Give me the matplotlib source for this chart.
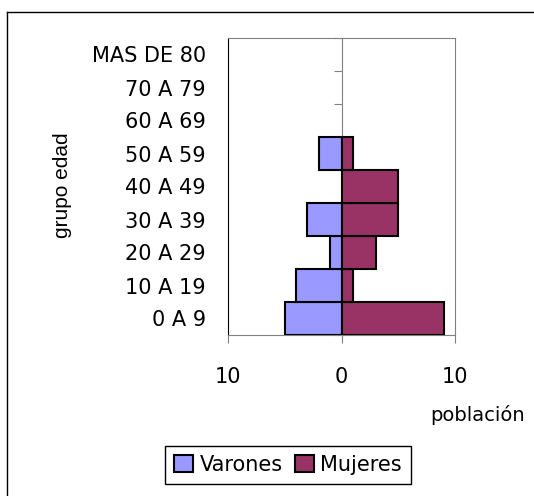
import numpy as np
import matplotlib
matplotlib.use('Agg')
from matplotlib import pyplot as plt
from matplotlib.lines import Line2D

# grupos de edad, de abajo hacia arriba
grupos = ['0 A 9', '10 A 19', '20 A 29', '30 A 39', '40 A 49',
          '50 A 59', '60 A 69', '70 A 79', 'MAS DE 80']
varones = [-5, -4, -1, -3, 0, -2, 0, 0, 0]
mujeres = [9, 1, 3, 5, 5, 1, 0, 0, 0]
xticks = [-10, 0, 10]
xtick_labels = ['10', '0', '10']

plt.rcParams['font.family'] = ['DejaVu Sans']

fig = plt.figure(figsize=(5.34, 4.96), dpi=100)
ax = fig.add_axes([228/534, 1 - 335/496, 227/534, 297/496])

pos = np.arange(len(grupos))
for vals, col, lab in [(varones, '#9999FF', 'Varones'),
                       (mujeres, '#993366', 'Mujeres')]:
    edges = ['black' if v != 0 else 'none' for v in vals]
    ax.barh(pos, vals, height=1.0, color=col, edgecolor=edges,
            linewidth=1.5, label=lab, zorder=3)

ax.set_xlim(-10, 10)
ax.set_ylim(-0.5, len(grupos) - 0.5)

# eje de categorias cruzando en 0
ax.spines['left'].set_position(('data', 0))
ax.spines['left'].set_color('#808080')
for s in ['top', 'right', 'bottom']:
    ax.spines[s].set_color('#808080')
ax.set_yticks(np.arange(len(grupos) + 1) - 0.5)
ax.tick_params(axis='y', length=6, color='#808080', labelleft=False)

ax.set_xticks(xticks)
ax.set_xticklabels(xtick_labels)
ax.tick_params(axis='x', length=6, color='#808080', pad=17, labelsize=15)

# etiquetas de grupo en el borde izquierdo
sec = ax.secondary_yaxis(0.0)
sec.set_yticks(pos)
sec.set_yticklabels(grupos)
sec.tick_params(length=0, pad=16, labelsize=15)
sec.spines['left'].set_color('black')

ax.set_xlabel('población', fontsize=14)
ax.xaxis.set_label_coords(1.10, -0.235)

fig.text(62/534, 1 - 185/496, 'grupo edad', rotation=90, ha='center',
         va='center', fontsize=15, family='Liberation Sans')

leg = fig.legend(loc='center', bbox_to_anchor=(288/534, 1 - 465/496), ncol=2,
                 fancybox=False, edgecolor='black', framealpha=1, fontsize=15,
                 handlelength=0.9, handleheight=0.9, handletextpad=0.3,
                 columnspacing=0.6, borderpad=0.45)
for h in leg.legend_handles:
    h.set_edgecolor('black')

# marco exterior (solo se ven borde izquierdo y superior)
fx, fy = 7/534, 1 - 12/496
fig.add_artist(Line2D([fx, fx], [0, fy], transform=fig.transFigure,
                      color='black', linewidth=1))
fig.add_artist(Line2D([fx, 1], [fy, fy], transform=fig.transFigure,
                      color='black', linewidth=1))

fig.savefig('out.png', dpi=100)
